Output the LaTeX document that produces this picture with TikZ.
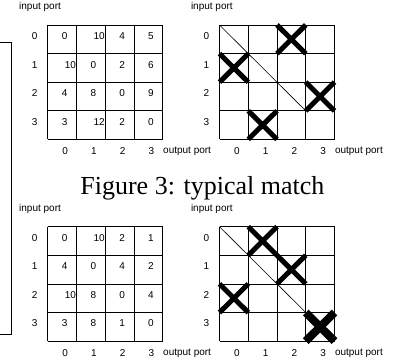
\documentclass[tikz,border=0pt]{standalone}
\usepackage{fontspec}
\setmainfont{Liberation Serif}
\setsansfont{Liberation Sans}
\usetikzlibrary{positioning}
\definecolor{gridink}{HTML}{000000}
\newcommand{\portfont}{\sffamily\fontsize{10}{12}\selectfont}
\tikzset{
  gridline/.style={gridink, line width=0.8pt},
  diagline/.style={gridink, line width=0.6pt},
  matchline/.style={gridink, line width=5pt},
  bigmatch/.style={gridink, line width=8pt},
  portlabel/.style={font=\portfont, inner sep=0pt},
  cellval/.style={font=\portfont, inner sep=0pt},
  caption/.style={font=\rmfamily\fontsize{26}{30}\selectfont, inner sep=0pt},
}
\newcommand{\portgrid}[3]{% name, x-left, y-top  (4x4 grid + port labels)
  \foreach \k in {0,...,4} {
    \draw[gridline] (#2+\k*28.75,#3) -- (#2+\k*28.75,#3+114.4);
    \draw[gridline] (#2,#3+\k*28.6) -- (#2+115,#3+\k*28.6);
  }
  \node[portlabel, anchor=west] (#1-in) at (#2-28.7,#3-17.6) {input port};
  \foreach \k in {0,...,3} {
    \node[portlabel] (#1-r\k) at (#2-13,#3+11+\k*28.6) {\k};
    \node[portlabel] (#1-c\k) at (#2+17.5+\k*28.75,#3+126.5) {\k};
  }
  \node[portlabel, anchor=west] (#1-out) at (#2+115.3,#3+126.5) {output port};
}
\newcommand{\valrow}[5]{% name, x-left, y-top, row, values
  \foreach \v [count=\c from 0] in {#5} {
    \ifnum\v>9\relax
      \node[cellval, anchor=east] (#1-#4-\c) at (#2+\c*28.75+28.4,#3+11+#4*28.6) {\v};
    \else
      \node[cellval] (#1-#4-\c) at (#2+\c*28.75+17,#3+11+#4*28.6) {\v};
    \fi
  }
}
\newcommand{\matchx}[5]{% style, x-left, y-top, row, col
  \draw[#1] (#2+#5*28.75,#3+#4*28.6) -- ++(28.75,28.6)
            ++(-28.75,0) -- ++(28.75,-28.6);
}

\begin{document}
\begin{tikzpicture}[x=1pt, y=-1pt]
  \useasboundingbox (0,0) rectangle (396,362);

  % frame cut by the left edge
  \draw[gridline] (0,42.7) -- (11,42.7) -- (11,334.3) -- (0,334.3);

  % typical match: costs
  \portgrid{costtop}{47.7}{25}
  \valrow{costtop}{47.7}{25}{0}{0,10,4,5}
  \valrow{costtop}{47.7}{25}{1}{10,0,2,6}
  \valrow{costtop}{47.7}{25}{2}{4,8,0,9}
  \valrow{costtop}{47.7}{25}{3}{3,12,2,0}

  % typical match: chosen pairs
  \portgrid{matchtop}{219.5}{25}
  \draw[diagline] (219.5,25) -- (219.5+86.25,25+85.8);
  \matchx{matchline}{219.5}{25}{0}{2}
  \matchx{matchline}{219.5}{25}{1}{0}
  \matchx{matchline}{219.5}{25}{2}{3}
  \matchx{matchline}{219.5}{25}{3}{1}

  \node[caption, anchor=base] (fig3) at (202.4,194) {Figure 3: typical match};

  % second case: costs
  \portgrid{costbot}{47.7}{226.7}
  \valrow{costbot}{47.7}{226.7}{0}{0,10,2,1}
  \valrow{costbot}{47.7}{226.7}{1}{4,0,4,2}
  \valrow{costbot}{47.7}{226.7}{2}{10,8,0,4}
  \valrow{costbot}{47.7}{226.7}{3}{3,8,1,0}

  % second case: chosen pairs
  \portgrid{matchbot}{219.5}{226.7}
  \draw[diagline] (219.5,226.7) -- (219.5+86.25,226.7+85.8);
  \matchx{matchline}{219.5}{226.7}{0}{1}
  \matchx{matchline}{219.5}{226.7}{1}{2}
  \matchx{matchline}{219.5}{226.7}{2}{0}
  \matchx{bigmatch}{219.5}{226.7}{3}{3}
\end{tikzpicture}
\end{document}
